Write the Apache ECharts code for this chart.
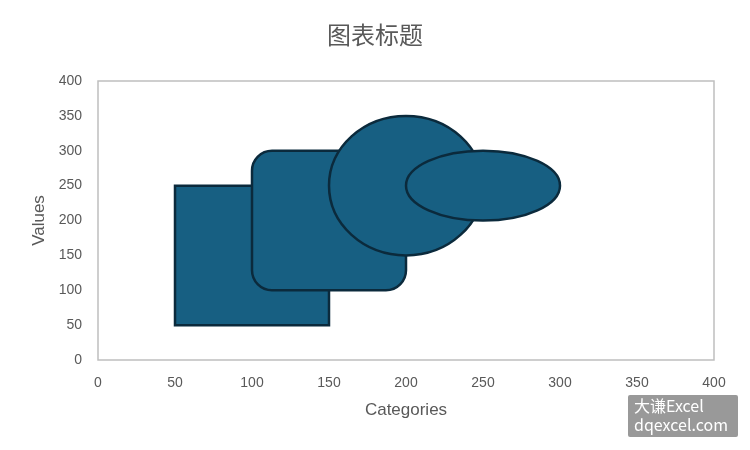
<!DOCTYPE html>
<html><head><meta charset="utf-8">
<script src="https://cdn.jsdelivr.net/npm/echarts@6/dist/echarts.min.js"></script>
<style>html,body{margin:0;padding:0;background:#fff}#c{width:750px;height:450px}</style>
</head><body><div id="c"></div>
<script>
// Shapes: [type, xMin, yMin, xMax, yMax] in data units
var shapeTypes = ['rect', 'roundRect', 'ellipse', 'ellipse'];
var shapeX1 = [50, 100, 150, 200];
var shapeY1 = [50, 100, 150, 200];
var shapeX2 = [150, 200, 250, 300];
var shapeY2 = [250, 300, 350, 300];
var xTicks = [0, 50, 100, 150, 200, 250, 300, 350, 400];
var yTicks = [0, 50, 100, 150, 200, 250, 300, 350, 400];

var data = shapeTypes.map(function (t, i) { return [shapeX1[i], shapeY1[i], shapeX2[i], shapeY2[i], i]; });
var fill = '#175F82', stroke = '#0B2A3C';
var chart = echarts.init(document.getElementById('c'));
chart.setOption({
  animation: false,
  title: { text: '图表标题', left: 'center', top: 18, textStyle: { fontFamily: 'Noto Sans CJK SC', fontSize: 24, fontWeight: 'normal', color: '#595959' } },
  grid: { left: 98, right: 36, top: 81, bottom: 90, show: true, borderColor: '#BFBFBF', borderWidth: 1.5 },
  xAxis: { type: 'value', min: 0, max: 400, interval: 50, name: 'Categories', nameLocation: 'middle', nameGap: 42,
    nameTextStyle: { color: '#595959', fontSize: 17, fontFamily: 'Liberation Sans' },
    axisLine: { show: false }, axisTick: { show: false }, splitLine: { show: false },
    axisLabel: { color: '#595959', fontSize: 14, margin: 16, fontFamily: 'Liberation Sans' } },
  yAxis: { type: 'value', min: 0, max: 400, interval: 50, name: 'Values', nameLocation: 'middle', nameGap: 49,
    nameTextStyle: { color: '#595959', fontSize: 17, fontFamily: 'Liberation Sans' },
    axisLine: { show: false }, axisTick: { show: false }, splitLine: { show: false },
    axisLabel: { color: '#595959', fontSize: 14, margin: 16, fontFamily: 'Liberation Sans' } },
  graphic: [
    { type: 'group', right: 12, bottom: 13, children: [
      { type: 'rect', shape: { width: 110, height: 42, r: 2 }, style: { fill: '#999999' } },
      { type: 'text', left: 6, top: 1, style: { text: '大谦Excel\ndqexcel.com', fill: '#fff', fontSize: 16, lineHeight: 19, fontFamily: 'Noto Sans CJK SC' } }
    ] }
  ],
  series: [{
    type: 'custom', coordinateSystem: 'cartesian2d', data: data, clip: false,
    encode: { x: [0, 2], y: [1, 3] },
    renderItem: function (params, api) {
      var p1 = api.coord([api.value(0), api.value(3)]);
      var p2 = api.coord([api.value(2), api.value(1)]);
      var t = shapeTypes[api.value(4)];
      var w = p2[0] - p1[0], h = p2[1] - p1[1];
      var style = { fill: fill, stroke: stroke, lineWidth: 2.5 };
      if (t === 'ellipse') {
        return { type: 'ellipse', shape: { cx: p1[0] + w / 2, cy: p1[1] + h / 2, rx: w / 2, ry: h / 2 }, style: style };
      }
      return { type: 'rect', shape: { x: p1[0], y: p1[1], width: w, height: h, r: t === 'roundRect' ? 20 : 0 }, style: style };
    }
  }]
});
</script></body></html>
